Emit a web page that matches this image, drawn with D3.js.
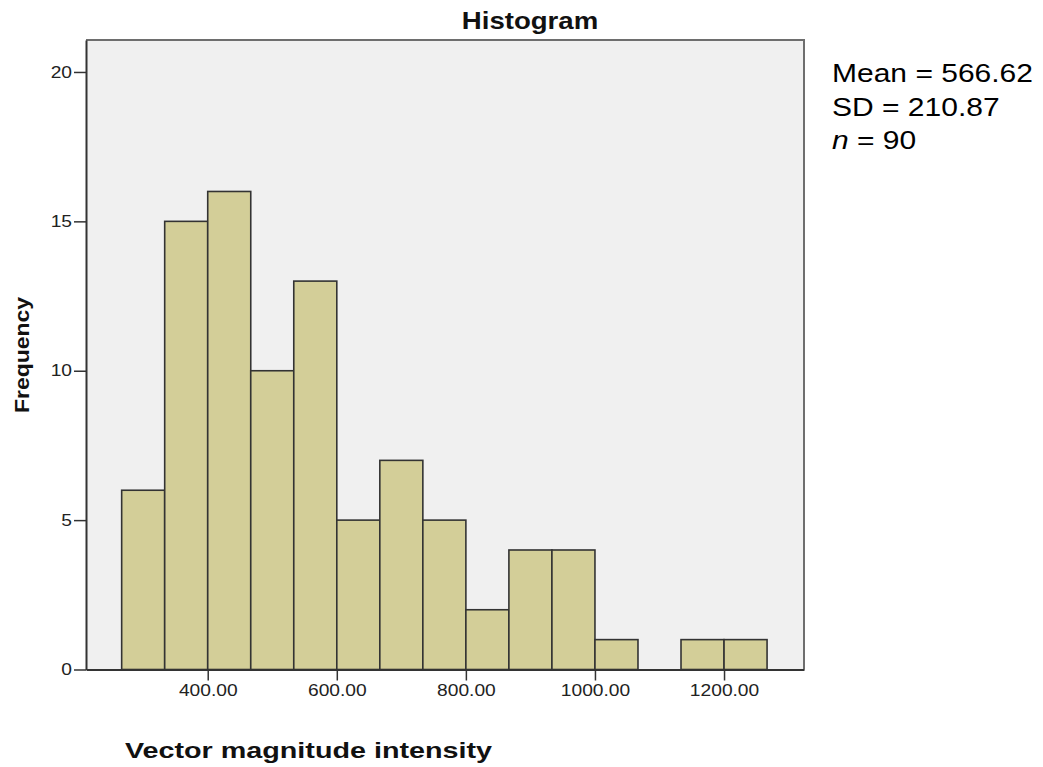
<!DOCTYPE html>
<html>
<head>
<meta charset="utf-8">
<script src="https://cdn.jsdelivr.net/npm/d3@7"></script>
<style>
  html, body { margin: 0; padding: 0; background: #ffffff; }
  svg { display: block; font-family: Arial, "Liberation Sans", sans-serif; }
</style>
</head>
<body>
<svg id="chart" width="1043" height="767"></svg>
<script>
// ---- data ----
const binEdges = [266.67, 333.33, 400, 466.67, 533.33, 600, 666.67, 733.33, 800, 866.67, 933.33, 1000, 1066.67, 1133.33, 1200, 1266.67];
const counts = [6, 15, 16, 10, 13, 5, 7, 5, 2, 4, 4, 1, 0, 1, 1];
const xTicks = [400, 600, 800, 1000, 1200];
const yTicks = [0, 5, 10, 15, 20];
const statsLines = [
  { label: "Mean", value: "566.62", italic: false },
  { label: "SD", value: "210.87", italic: false },
  { label: "n", value: "90", italic: true }
];
const titleText = "Histogram";
const xTitle = "Vector magnitude intensity";
const yTitle = "Frequency";

// ---- layout ----
const plot = { left: 86, right: 804, top: 40, bottom: 669.5 };
const stretch = 1.2;

const svg = d3.select("#chart");

const x = d3.scaleLinear().domain([211.4, 1323.9]).range([plot.left, plot.right]);
const y = d3.scaleLinear().domain([0, 21.07]).range([plot.bottom, plot.top]);

// plot background
svg.append("rect")
  .attr("x", plot.left).attr("y", plot.top)
  .attr("width", plot.right - plot.left).attr("height", plot.bottom - plot.top)
  .attr("fill", "#f0f0f0");

// top and right frame
svg.append("path")
  .attr("d", `M${plot.left},${plot.top}H${plot.right}V${plot.bottom}`)
  .attr("fill", "none").attr("stroke", "#6e6e6e").attr("stroke-width", 2);

// bars
const bins = counts.map((c, i) => ({ x0: binEdges[i], x1: binEdges[i + 1], count: c })).filter(d => d.count > 0);
svg.append("g").selectAll("rect").data(bins).join("rect")
  .attr("x", d => x(d.x0))
  .attr("y", d => y(d.count))
  .attr("width", d => x(d.x1) - x(d.x0))
  .attr("height", d => y(0) - y(d.count))
  .attr("fill", "#d3ce98")
  .attr("stroke", "#333333")
  .attr("stroke-width", 1.6);

// y axis
const yAxis = svg.append("g")
  .attr("transform", `translate(${plot.left},0)`)
  .call(d3.axisLeft(y).tickValues(yTicks).tickFormat(d3.format("d")).tickSize(12).tickSizeOuter(0).tickPadding(2));
yAxis.select(".domain").attr("stroke", "#333").attr("stroke-width", 2);
yAxis.selectAll(".tick line").attr("stroke", "#333").attr("stroke-width", 1.5);
yAxis.selectAll(".tick text")
  .attr("font-size", 16).attr("fill", "#222")
  .attr("font-family", "Arial, 'Liberation Sans', sans-serif")
  .attr("x", -14 / stretch)
  .attr("transform", `scale(${stretch},1)`);

// x axis
const xAxis = svg.append("g")
  .attr("transform", `translate(0,${plot.bottom})`)
  .call(d3.axisBottom(x).tickValues(xTicks).tickFormat(d3.format(".2f")).tickSize(11).tickSizeOuter(0).tickPadding(4));
xAxis.select(".domain").attr("stroke", "#333").attr("stroke-width", 2);
xAxis.selectAll(".tick line").attr("stroke", "#333").attr("stroke-width", 1.5);
xAxis.selectAll(".tick text")
  .attr("font-size", 16).attr("fill", "#222")
  .attr("font-family", "Arial, 'Liberation Sans', sans-serif")
  .attr("transform", `scale(${stretch},1)`);

// title
svg.append("text")
  .attr("transform", `translate(530,29) scale(${stretch},1)`)
  .attr("text-anchor", "middle")
  .attr("font-size", 23).attr("font-weight", "bold").attr("fill", "#111")
  .text(titleText);

// y title
svg.append("text")
  .attr("transform", "translate(29,355) rotate(-90)")
  .attr("text-anchor", "middle")
  .attr("font-size", 20).attr("font-weight", "bold").attr("fill", "#111")
  .attr("textLength", 116).attr("lengthAdjust", "spacingAndGlyphs")
  .text(yTitle);

// x title
svg.append("text")
  .attr("x", 125).attr("y", 758)
  .attr("font-size", 22).attr("font-weight", "bold").attr("fill", "#111")
  .attr("textLength", 367).attr("lengthAdjust", "spacingAndGlyphs")
  .text(xTitle);

// stats
const stats = svg.append("g");
statsLines.forEach((s, i) => {
  const t = stats.append("text")
    .attr("transform", `translate(832,${82 + i * 33.5}) scale(${stretch},1)`)
    .attr("font-size", 25).attr("fill", "#000");
  t.append("tspan").attr("font-style", s.italic ? "italic" : "normal").text(s.label);
  t.append("tspan").text(" = " + s.value);
});
</script>
</body>
</html>
